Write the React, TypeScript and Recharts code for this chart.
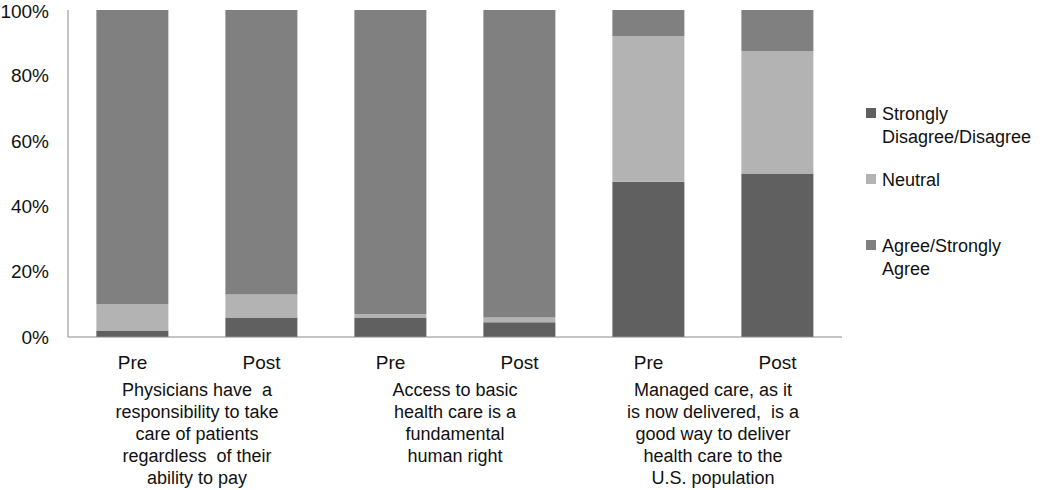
import React from 'react';
import { BarChart, Bar, XAxis, YAxis } from 'recharts';

const categories = ['Pre', 'Post', 'Pre', 'Post', 'Pre', 'Post'];
const disagree = [2, 6, 6, 4.5, 47.5, 50];
const neutral = [8, 7, 1, 1.5, 44.5, 37.5];
const agree = [90, 87, 93, 94, 8, 12.5];

const groupLabels = [
  ['Physicians have  a', 'responsibility to take', 'care of patients', 'regardless  of their', 'ability to pay'],
  ['Access to basic', 'health care is a', 'fundamental', 'human right'],
  ['Managed care, as it', 'is now delivered,  is a', 'good way to deliver', 'health care to the', 'U.S. population'],
];

const yTicks = [0, 20, 40, 60, 80, 100];

const seriesNames = ['Strongly Disagree/Disagree', 'Neutral', 'Agree/Strongly Agree'];
const legendLines = [['Strongly', 'Disagree/Disagree'], ['Neutral'], ['Agree/Strongly', 'Agree']];
const colors = ['#606060', '#b3b3b3', '#808080'];

const data = categories.map((c, i) => ({
  key: c + i,
  label: c,
  disagree: disagree[i],
  neutral: neutral[i],
  agree: agree[i],
}));

const FONT = '"Liberation Sans", Arial, sans-serif';
const BAND = 129;

function XTick(props: any) {
  const { x, y, index } = props;
  const i = index ?? props.payload?.index ?? 0;
  const lines = i % 2 === 1 ? groupLabels[(i - 1) / 2] : null;
  return (
    <g>
      <text x={x} y={y + 32} textAnchor="middle" fontSize={19} fontFamily={FONT} fill="#111">
        {categories[i]}
      </text>
      {lines &&
        lines.map((l, j) => (
          <text
            key={j}
            x={x - BAND / 2}
            y={y + 59 + j * 22}
            textAnchor="middle"
            fontSize={18}
            fontFamily={FONT}
            fill="#111"
            style={{ whiteSpace: 'pre' }}
          >
            {l}
          </text>
        ))}
    </g>
  );
}

function ChartLegend() {
  const tops = [102.6, 168.6, 234.6];
  return (
    <div style={{ position: 'absolute', left: 0, top: 0, fontFamily: FONT, pointerEvents: 'none' }}>
      {legendLines.map((lines, i) => (
        <div key={seriesNames[i]}>
          <div
            style={{
              position: 'absolute',
              left: 866,
              top: tops[i] + 5.5,
              width: 10,
              height: 10,
              background: colors[i],
            }}
          />
          <div
            style={{
              position: 'absolute',
              left: 882,
              top: tops[i],
              fontSize: 18,
              lineHeight: '23px',
              color: '#111',
              whiteSpace: 'nowrap',
            }}
          >
            {lines.map((l) => (
              <div key={l}>{l}</div>
            ))}
          </div>
        </div>
      ))}
    </div>
  );
}

export default function App() {
  return (
    <div style={{ position: 'absolute', left: 0, top: 0, width: 1050, height: 490, background: '#fff' }}>
      <BarChart
        width={1050}
        height={490}
        data={data}
        margin={{ top: 10, right: 208, left: 0, bottom: 3 }}
        barCategoryGap="22%"
      >
        <XAxis
          dataKey="key"
          height={150}
          interval={0}
          tickSize={0}
          tickMargin={0}
          tickLine={false}
          axisLine={{ stroke: '#8a8a8a' }}
          tick={<XTick />}
        />
        <YAxis
          width={68}
          domain={[0, 100]}
          ticks={yTicks}
          tickFormatter={(v: number) => `${v}%`}
          tickSize={0}
          tickMargin={19}
          tickLine={false}
          axisLine={{ stroke: '#8a8a8a' }}
          tick={{ fontSize: 19, fontFamily: FONT, fill: '#111' }}
        />
        <Bar dataKey="disagree" name={seriesNames[0]} stackId="a" fill={colors[0]} isAnimationActive={false} />
        <Bar dataKey="neutral" name={seriesNames[1]} stackId="a" fill={colors[1]} isAnimationActive={false} />
        <Bar dataKey="agree" name={seriesNames[2]} stackId="a" fill={colors[2]} isAnimationActive={false} />
      </BarChart>
      <ChartLegend />
    </div>
  );
}
